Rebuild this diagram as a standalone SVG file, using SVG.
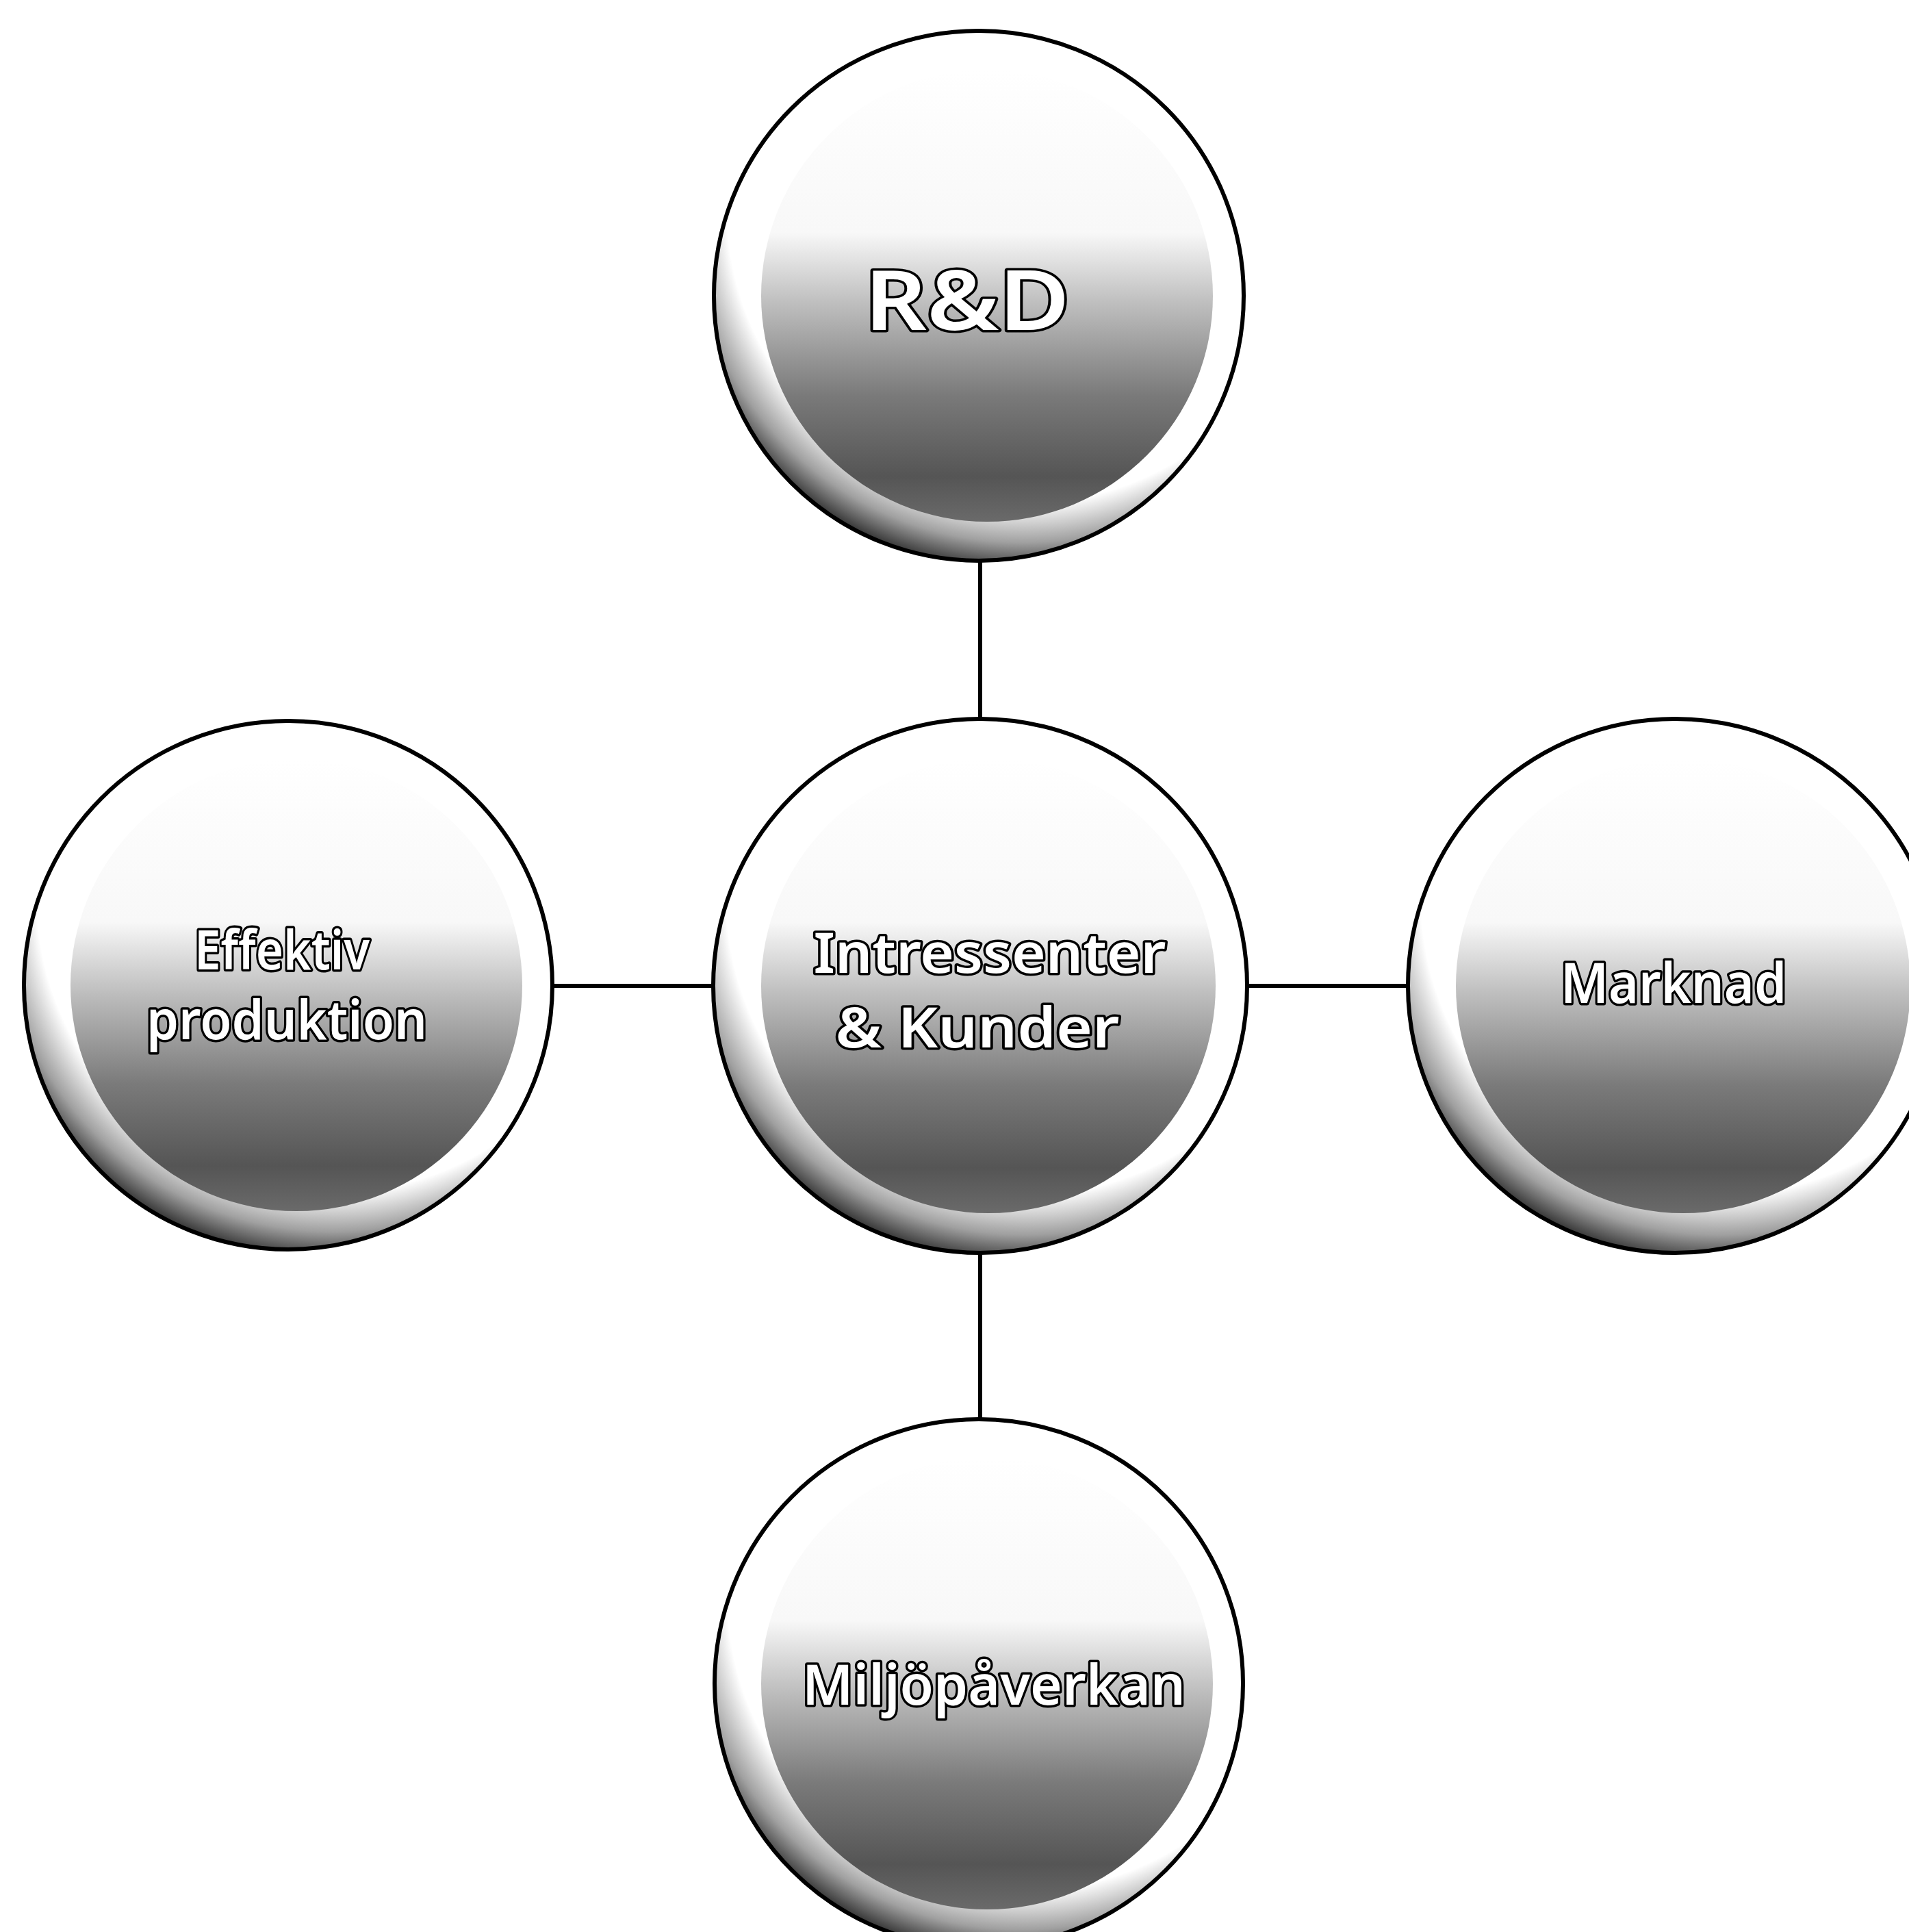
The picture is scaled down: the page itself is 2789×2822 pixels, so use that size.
<svg xmlns="http://www.w3.org/2000/svg" width="2789" height="2822" viewBox="0 0 2789 2822">
<defs>
<radialGradient id="rim" cx="0.58" cy="0.34" r="0.7" fx="0.6" fy="0.3">
<stop offset="0.80" stop-color="#ffffff"/>
<stop offset="0.90" stop-color="#a0a0a0"/>
<stop offset="1" stop-color="#0a0a0a"/>
</radialGradient>
<linearGradient id="core" x1="0" y1="0" x2="0" y2="1">
<stop offset="0" stop-color="#ffffff"/>
<stop offset="0.36" stop-color="#f8f8f8"/>
<stop offset="0.52" stop-color="#bdbdbd"/>
<stop offset="0.72" stop-color="#7a7a7a"/>
<stop offset="0.9" stop-color="#555555"/>
<stop offset="1" stop-color="#6a6a6a"/>
</linearGradient>
<style>
.outer{fill:url(#rim);stroke:#000;stroke-width:6}
.inner{fill:url(#core)}
.lbl{font-family:"Noto Sans","Open Sans","Liberation Sans",sans-serif;font-weight:600;fill:#fff;stroke:#000;stroke-width:7;paint-order:stroke;stroke-linejoin:round;text-anchor:middle}
.conn{stroke:#000;stroke-width:6;fill:none}
</style>
</defs>
<rect width="2789" height="2822" fill="#fff"/>
<g id="connectors">
<line class="conn" x1="1432" y1="819" x2="1432" y2="1050"/>
<line class="conn" x1="1432" y1="1830" x2="1432" y2="2073"/>
<line class="conn" x1="806" y1="1440" x2="1043" y2="1440"/>
<line class="conn" x1="1821" y1="1440" x2="2056" y2="1440"/>
</g>
<g id="node-rd">
<circle class="outer" cx="1430" cy="432" r="387"/>
<circle class="inner" cx="1442" cy="432" r="330"/>
<text class="lbl" x="1413" y="482" font-size="122" textLength="300" lengthAdjust="spacingAndGlyphs">R&amp;D</text>
</g>
<g id="node-center">
<circle class="outer" cx="1432" cy="1440" r="390"/>
<circle class="inner" cx="1444" cy="1440" r="332"/>
<text class="lbl" x="1446" y="1421" font-size="82" textLength="515" lengthAdjust="spacingAndGlyphs">Intressenter</text>
<text class="lbl" x="1428" y="1530" font-size="82" textLength="415" lengthAdjust="spacingAndGlyphs">&amp; Kunder</text>
</g>
<g id="node-left">
<circle class="outer" cx="421" cy="1439" r="386"/>
<circle class="inner" cx="433" cy="1439" r="330"/>
<text class="lbl" x="412" y="1416" font-size="80" textLength="256" lengthAdjust="spacingAndGlyphs">Effektiv</text>
<text class="lbl" x="419" y="1518" font-size="80" textLength="410" lengthAdjust="spacingAndGlyphs">produktion</text>
</g>
<g id="node-right">
<circle class="outer" cx="2447" cy="1440" r="390"/>
<circle class="inner" cx="2459" cy="1440" r="332"/>
<text class="lbl" x="2445" y="1465" font-size="82" textLength="330" lengthAdjust="spacingAndGlyphs">Marknad</text>
</g>
<g id="node-bottom">
<circle class="outer" cx="1430" cy="2459" r="386"/>
<circle class="inner" cx="1442" cy="2459" r="330"/>
<text class="lbl" x="1452" y="2490" font-size="82" textLength="560" lengthAdjust="spacingAndGlyphs">Miljöpåverkan</text>
</g>
</svg>
